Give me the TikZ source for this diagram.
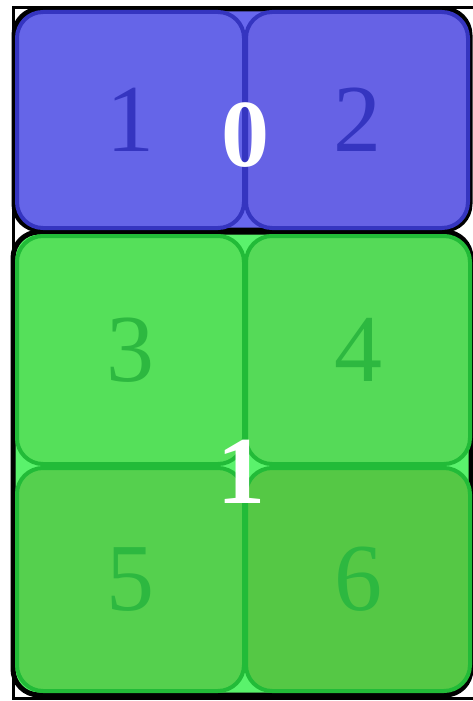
\documentclass[tikz,border=0pt]{standalone}
\usepackage{fontspec}
\setmainfont{Liberation Serif}
\definecolor{bluebg}{HTML}{6868EE}
\definecolor{blueA}{HTML}{6565E8}
\definecolor{blueB}{HTML}{6662E5}
\definecolor{bluedk}{HTML}{3535C0}
\definecolor{greenbg}{HTML}{5AF26C}
\definecolor{greenA}{HTML}{55E05A}
\definecolor{greenB}{HTML}{55DA58}
\definecolor{greenC}{HTML}{55D04E}
\definecolor{greenD}{HTML}{55C845}
\definecolor{greendk}{HTML}{22BB38}
\definecolor{greentx}{HTML}{2DB840}
\begin{document}
\begin{tikzpicture}[x=1pt,y=-1pt,
  container/.style={draw=black, line width=5pt, rounded corners=26pt},
  cell/.style={rectangle, line width=4pt, rounded corners=26pt, inner sep=0pt,
    font=\fontsize{96}{96}\selectfont},
  bluecell/.style={cell, draw=bluedk, text=bluedk},
  greencell/.style={cell, draw=greendk, text=greentx},
  biglabel/.style={inner sep=0pt, text=white, font=\fontsize{96}{96}\selectfont\bfseries}]
\useasboundingbox (0,0) rectangle (473,701);
\fill[white] (0,0) rectangle (473,701);
\draw[line width=3pt] (13.5,7.5) rectangle (476,698);
% containers
\node[container, fill=bluebg, minimum width=456pt, minimum height=221pt] (c0) at (242,119.5) {};
\node[container, fill=greenbg, minimum width=458pt, minimum height=463pt] (c1) at (242,463.5) {};
% blue cells
\node[bluecell, fill=blueA, minimum width=227pt, minimum height=216pt] (n1) at (130.5,120) {1};
\node[bluecell, fill=blueB, minimum width=222pt, minimum height=216pt] (n2) at (357,120) {2};
% green cells
\node[greencell, fill=greenA, minimum width=227pt, minimum height=228pt] (n3) at (130.5,350) {3};
\node[greencell, fill=greenB, minimum width=224pt, minimum height=228pt] (n4) at (358,350) {4};
\node[greencell, fill=greenC, minimum width=227pt, minimum height=223pt] (n5) at (130.5,579.5) {5};
\node[greencell, fill=greenD, minimum width=224pt, minimum height=223pt] (n6) at (358,579.5) {6};
% container labels
\node[biglabel] (l0) at (245,135.5) {0};
\node[biglabel] (l1) at (241,471.5) {1};
\end{tikzpicture}
\end{document}
